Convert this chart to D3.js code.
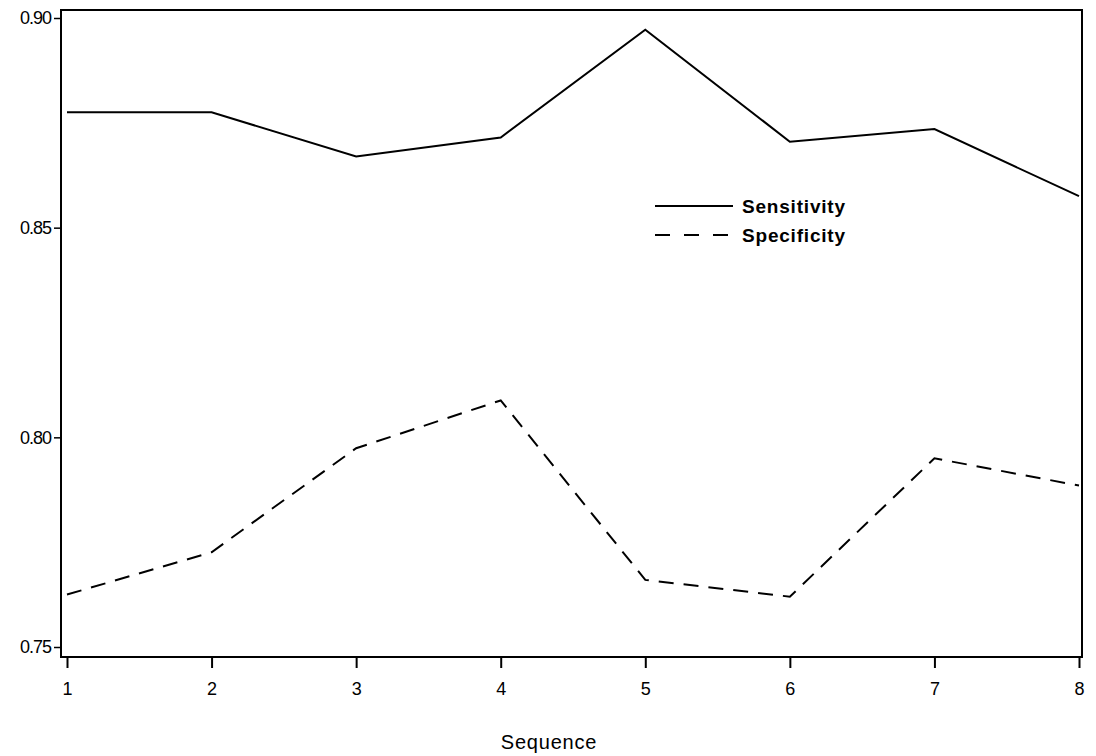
<!DOCTYPE html>
<html><head><meta charset="utf-8">
<script src="https://cdn.jsdelivr.net/npm/d3@7"></script>
<style>body{margin:0;background:#fff}svg{display:block}</style>
</head><body>
<svg id="c" width="1096" height="756"></svg>
<script>
const sequence = [1, 2, 3, 4, 5, 6, 7, 8];
const sensitivity = [0.8775, 0.8775, 0.8670, 0.8715, 0.8972, 0.8705, 0.8735, 0.8575];
const specificity = [0.7625, 0.7726, 0.7974, 0.8088, 0.7660, 0.7620, 0.7950, 0.7885];
const yTicks = [0.75, 0.80, 0.85, 0.90];
const yTickLabels = ["0.75", "0.80", "0.85", "0.90"];
const xLabel = "Sequence";
const seriesNames = ["Sensitivity", "Specificity"];

const svg = d3.select("#c");
const L = 61, R = 1082, T = 10, B = 657;
const x = d3.scaleLinear().domain([1, 8]).range([67, 1079]);
const y = d3.scaleLinear().domain([0.75, 0.90]).range([647, 18]);
const font = "'Liberation Sans', Arial, sans-serif";

// frame
svg.append("rect").attr("x", L).attr("y", T).attr("width", R - L).attr("height", B - T)
  .attr("fill", "none").attr("stroke", "#000").attr("stroke-width", 2);

// y axis
const yAxis = svg.append("g").attr("transform", `translate(${L},0)`)
  .call(d3.axisLeft(y).tickValues(yTicks).tickFormat((d, i) => yTickLabels[i]).tickSize(7).tickPadding(3));
yAxis.select(".domain").remove();
yAxis.selectAll("line").attr("stroke", "#000").attr("stroke-width", 1.5);
yAxis.selectAll("text").attr("font-family", font).attr("font-size", 18).attr("fill", "#000").attr("letter-spacing", "-1px");

// x axis
const xAxis = svg.append("g").attr("transform", `translate(0,${B})`)
  .call(d3.axisBottom(x).tickValues(sequence).tickFormat(d3.format("d")).tickSize(11).tickPadding(14));
xAxis.select(".domain").remove();
xAxis.selectAll("line").attr("stroke", "#000").attr("stroke-width", 2);
xAxis.selectAll("text").attr("font-family", font).attr("font-size", 18).attr("fill", "#000");

svg.append("text").attr("x", 549).attr("y", 749).attr("text-anchor", "middle")
  .attr("font-family", font).attr("font-size", 20).attr("letter-spacing", "0.8px").attr("fill", "#000").text(xLabel);

const line = d3.line().x((d, i) => x(sequence[i])).y(d => y(d));
svg.append("path").datum(sensitivity).attr("d", line).attr("fill", "none")
  .attr("stroke", "#000").attr("stroke-width", 2);
svg.append("path").datum(specificity).attr("d", line).attr("fill", "none")
  .attr("stroke", "#000").attr("stroke-width", 2).attr("stroke-dasharray", "15,10");

// legend
const leg = svg.append("g");
const legY = [206, 235];
seriesNames.forEach((n, i) => {
  leg.append("line").attr("x1", 655).attr("x2", 733).attr("y1", legY[i]).attr("y2", legY[i])
    .attr("stroke", "#000").attr("stroke-width", 2)
    .attr("stroke-dasharray", i === 1 ? "15,14" : null);
  leg.append("text").attr("x", 742).attr("y", legY[i] + 7).attr("font-family", font)
    .attr("font-size", 19).attr("font-weight", "bold").attr("letter-spacing", "0.8px").attr("fill", "#000").text(n);
});
</script>
</body></html>
